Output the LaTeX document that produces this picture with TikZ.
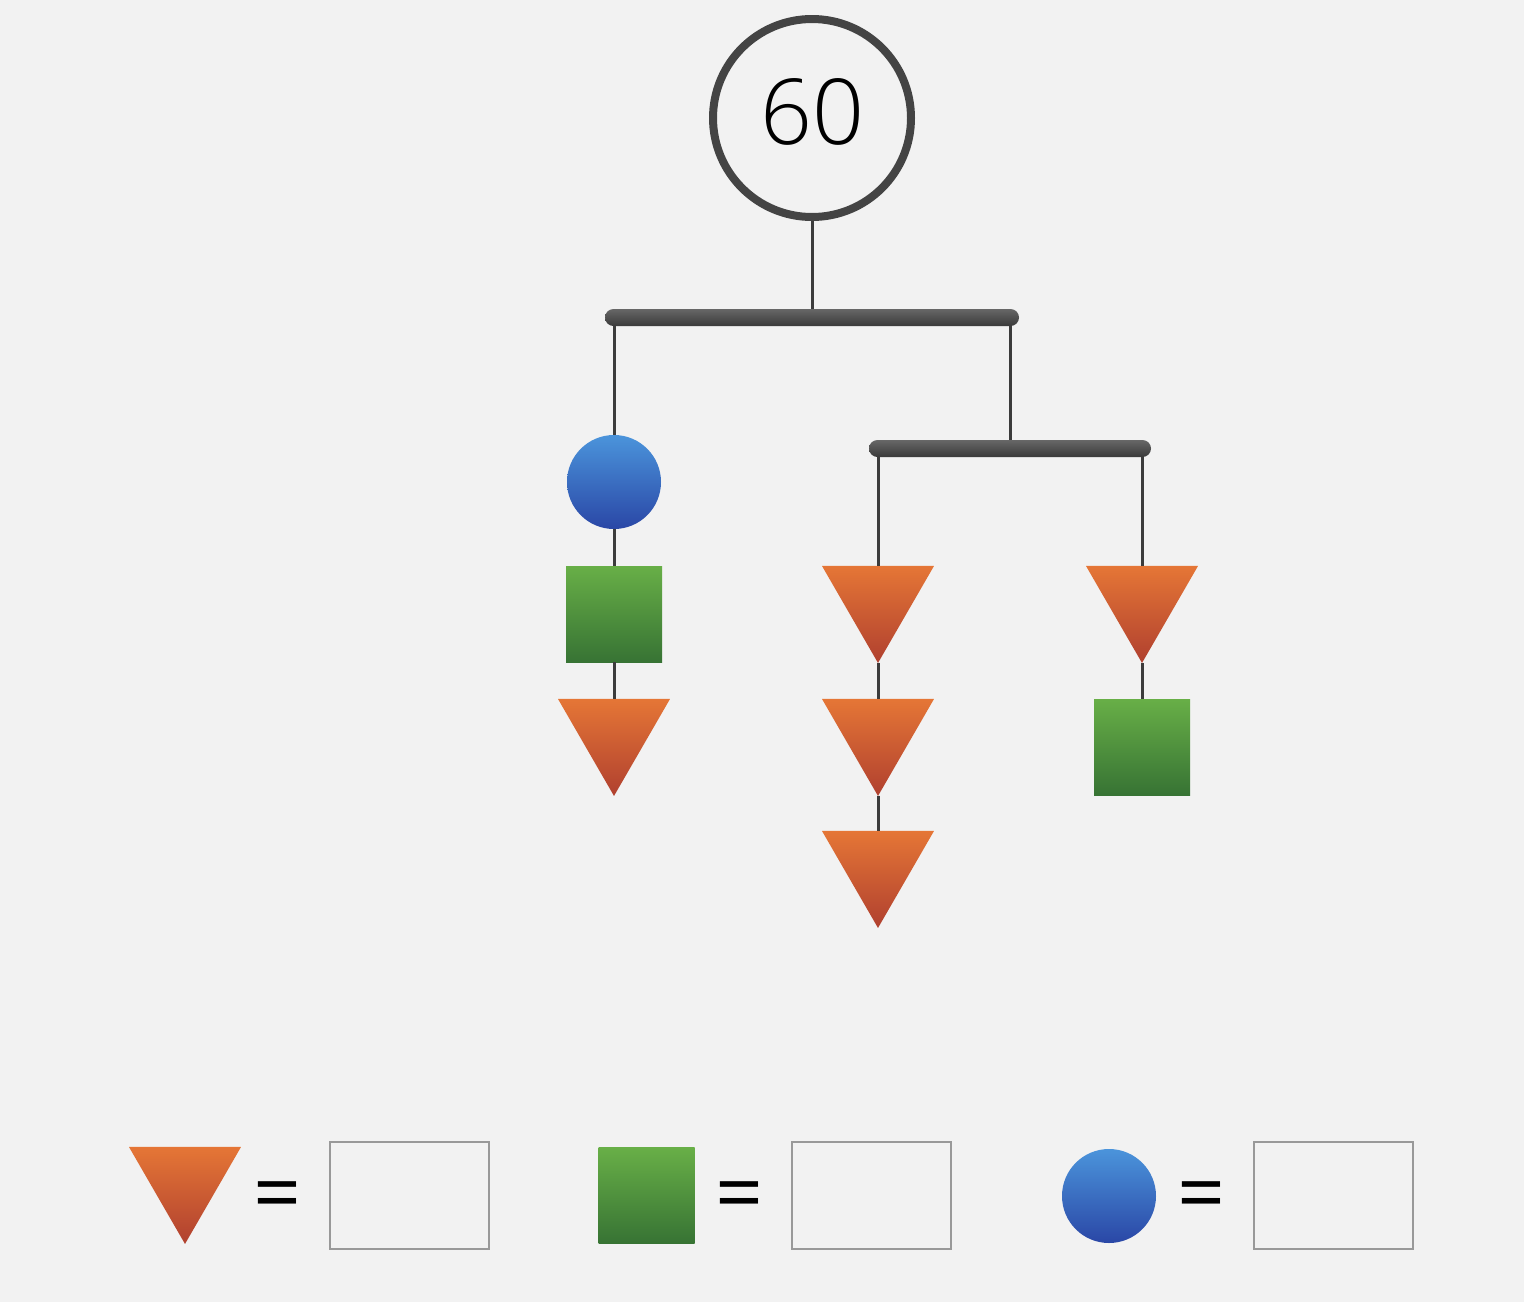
\documentclass[tikz,border=0pt]{standalone}
\usepackage{fontspec}
\setmainfont{Open Sans}
\newfontfamily\lightfont{Open Sans Light}
\usetikzlibrary{shapes.geometric}
\definecolor{bgcol}{HTML}{F2F2F2}
\definecolor{tritop}{HTML}{E57636}
\definecolor{tribot}{HTML}{B0402F}
\definecolor{sqtop}{HTML}{68AF47}
\definecolor{sqbot}{HTML}{377334}
\definecolor{balltop}{HTML}{4B94DB}
\definecolor{ballbot}{HTML}{2A47A6}
\definecolor{strcol}{HTML}{3C3C3C}
\definecolor{ringcol}{HTML}{444444}
\definecolor{bartop}{HTML}{676767}
\definecolor{barbot}{HTML}{3A3A3A}
\definecolor{boxcol}{HTML}{999999}
\tikzset{
  tri/.style={regular polygon, regular polygon sides=3, shape border rotate=180,
    minimum size=129.3pt, inner sep=0pt, outer sep=0pt, top color=tritop, bottom color=tribot, draw=none},
  sqr/.style={rectangle, minimum size=96pt, inner sep=0pt, outer sep=0pt, top color=sqtop, bottom color=sqbot, draw=none},
  ball/.style={circle, minimum size=94pt, inner sep=0pt, outer sep=0pt, top color=balltop, bottom color=ballbot, draw=none},
  bar/.style={rectangle, minimum height=17pt, inner sep=0pt, outer sep=0pt, rounded corners=8.5pt, top color=bartop, bottom color=barbot, draw=none},
  strg/.style={draw=strcol, line width=3pt},
  ansbox/.style={rectangle, draw=boxcol, line width=1.6pt, fill=bgcol, minimum width=159pt, minimum height=107pt, inner sep=0pt},
  eqtxt/.style={font=\fontsize{84}{100}\selectfont, inner sep=0pt, anchor=base},
}
\begin{document}
\begin{tikzpicture}[x=1pt,y=-1pt]
\fill[bgcol] (0,0) rectangle (1524,1302);
\useasboundingbox (0,0) rectangle (1524,1302);
% top ring
\node[circle, draw=ringcol, line width=8pt, fill=bgcol, minimum size=198pt, inner sep=0pt] (ring) at (812,118) {};
\node[font=\lightfont\fontsize{91}{100}\selectfont, inner sep=0pt, anchor=base] (num) at (812,144) {60};
% bars
\node[bar, minimum width=414pt] (bar1) at (812,317.5) {};
\node[bar, minimum width=282pt] (bar2) at (1010,448.5) {};
% left column
\node[ball] (b1) at (614,482) {};
\node[sqr] (s1) at (614,614) {};
\node[tri] (t1) at (614,731.3) {};
% middle column
\node[tri] (t2) at (878,598.3) {};
\node[tri] (t3) at (878,731.3) {};
\node[tri] (t4) at (878,863.3) {};
% right column
\node[tri] (t5) at (1142,598.3) {};
\node[sqr] (s2) at (1142,747) {};
% strings
\draw[strg] (ring.south) -- (bar1.north);
\draw[strg] (b1.north |- bar1.south) -- (b1.north);
\draw[strg] (b1.south) -- (s1.north);
\draw[strg] (s1.south) -- (t1.north);
\draw[strg] (bar2.north |- bar1.south) -- (bar2.north);
\draw[strg] (t2.north |- bar2.south) -- (t2.north);
\draw[strg] (t2.south) -- (t3.north);
\draw[strg] (t3.south) -- (t4.north);
\draw[strg] (t5.north |- bar2.south) -- (t5.north);
\draw[strg] (t5.south) -- (s2.north);
% legend
\node[tri] (lt) at (185,1179.3) {};
\node[eqtxt] (e1) at (277.5,1222) {=};
\node[ansbox] (a1) at (409.5,1195.5) {};
\node[sqr] (ls) at (646.5,1195.5) {};
\node[eqtxt] (e2) at (739.5,1222) {=};
\node[ansbox] (a2) at (871.5,1195.5) {};
\node[ball] (lb) at (1109,1196) {};
\node[eqtxt] (e3) at (1201.5,1222) {=};
\node[ansbox] (a3) at (1333.5,1195.5) {};
\end{tikzpicture}
\end{document}
